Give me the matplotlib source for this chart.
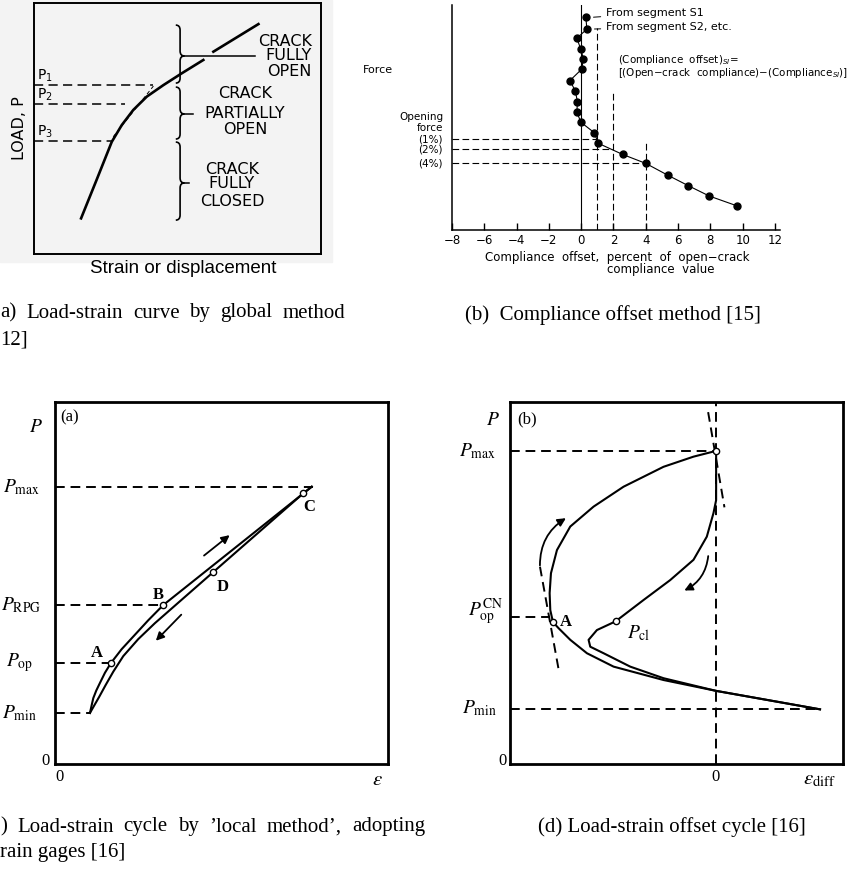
import matplotlib
matplotlib.use('Agg')
import matplotlib.pyplot as plt
from matplotlib.path import Path
from matplotlib.patches import PathPatch, Rectangle

W, H = 858, 869
plt.rcParams['mathtext.fontset'] = 'stix'
plt.rcParams['font.family'] = 'DejaVu Sans'
SERIF = 'Liberation Serif'
DASH = (0, (5, 3))

# (a) global method
glob_strain = [1.64, 2.18, 2.71, 3.06, 3.46, 3.93, 4.51, 5.15, 5.90]
glob_load = [1.42, 2.95, 4.47, 5.14, 5.74, 6.27, 6.73, 7.20, 7.73]
glob_strain_hi = [6.25, 7.82]
glob_load_hi = [8.06, 9.16]
tangent_strain = [2.76, 4.16]
tangent_load = [4.67, 6.69]
p_names = ['P$_1$', 'P$_2$', 'P$_3$']
p_loads = [6.73, 5.98, 4.50]
p_reach = [4.15, 3.17, 2.72]
brace_lo = [6.81, 4.58, 1.35]
brace_hi = [9.12, 6.65, 4.46]
brace_tip = [7.89, 5.58, 2.83]
brace_lead = [7.70, 5.55, 5.40]

# (b) compliance offset method
offset = [0.29, 0.35, -0.27, -0.02, 0.14, 0.02, -0.70, -0.37, -0.23, -0.27,
          -0.02, 0.80, 1.07, 2.56, 4.00, 5.35, 6.63, 7.93, 9.62]
force = [94.5, 89.3, 85.2, 80.3, 75.9, 71.4, 66.4, 61.9, 57.0, 52.4,
         47.9, 43.3, 38.5, 33.6, 29.6, 24.4, 19.7, 15.1, 10.8]
crit_pct = [1, 2, 4]
crit_force = [40.4, 36.0, 29.8]
crit_top = [89.8, 62.2, 40.0]
crit_names = ['(1%)', '(2%)', '(4%)']

# (c) local method, strain gage
up_eps = [1.05, 1.10, 1.15, 1.24, 1.35, 1.50, 1.68, 2.00, 2.35, 2.80, 3.25, 7.71]
up_P = [1.41, 1.62, 1.82, 2.03, 2.24, 2.52, 2.79, 3.17, 3.52, 3.97, 4.39, 7.66]
down_eps = [7.71, 7.46, 4.75, 3.00, 2.50, 2.05, 1.75, 1.52, 1.33, 1.18, 1.05]
down_P = [7.66, 7.48, 5.30, 3.89, 3.45, 2.98, 2.55, 2.18, 1.86, 1.62, 1.41]
c_levels = [7.65, 4.39, 2.79, 1.41]
c_reach = [7.75, 3.25, 1.68, 1.05]
c_names = [r'$P_{\rm max}$', r'$P_{\rm RPG}$', r'$P_{\rm op}$', r'$P_{\rm min}$']
c_mark_eps = [1.68, 3.25, 4.75, 7.46]
c_mark_P = [2.79, 4.39, 5.30, 7.48]
c_mark_names = ['A', 'B', 'D', 'C']
c_name_xy = [(1.26, 3.07), (3.09, 4.67), (5.05, 4.89), (7.63, 7.10)]

# (d) offset strain cycle
out_eps = [3.12, 0.0, -1.58, -3.08, -3.88, -4.38, -4.73, -4.90, -4.98, -5.00,
           -4.96, -4.78, -4.38, -3.68, -2.78, -1.58, -0.68, 0.0]
out_P = [1.51, 2.02, 2.32, 2.69, 3.06, 3.43, 3.75, 3.92, 4.25, 4.72,
         5.27, 5.91, 6.56, 7.11, 7.66, 8.21, 8.49, 8.65]
in_eps = [0.0, 0.0, 0.0, -0.08, -0.28, -0.68, -1.38, -2.18, -3.02, -3.58,
          -3.83, -3.78, -3.38, -2.58, -1.58, 0.0, 3.12]
in_P = [8.65, 8.03, 7.29, 6.93, 6.28, 5.64, 5.08, 4.53, 3.94, 3.70,
        3.43, 3.24, 3.06, 2.69, 2.37, 2.02, 1.51]
d_levels = [8.65, 4.07, 1.51]
d_reach = [0.0, -4.98, 3.12]
d_names = [r'$P_{\rm max}$', r'$P_{\rm op}^{\rm CN}$', r'$P_{\rm min}$']
d_mark_eps = [0.0, -4.90, -3.02]
d_mark_P = [8.65, 3.92, 3.94]

fig = plt.figure(figsize=(W / 100, H / 100), dpi=100)


def box(x0, y0, x1, y1):
    return [x0 / W, 1 - y1 / H, (x1 - x0) / W, (y1 - y0) / H]


def label(x, y, s, **kw):
    kw.setdefault('va', 'center')
    return fig.text(x / W, 1 - y / H, s, **kw)


def justified(words, x0, x1, y, **kw):
    r = fig.canvas.get_renderer()
    ts = [label(0, y, w, ha='left', **kw) for w in words]
    widths = [t.get_window_extent(r).width for t in ts]
    gap = (x1 - x0 - sum(widths)) / (len(words) - 1)
    x = x0
    for t, w in zip(ts, widths):
        t.set_x(x / W)
        x += w + gap


def brace(ax, x, lo, hi, tip, w=0.15, h=0.2):
    verts = [(x - w, hi), (x, hi), (x, hi - h), (x, tip + h), (x, tip), (x + w, tip),
             (x + w, tip), (x, tip), (x, tip - h), (x, lo + h), (x, lo), (x - w, lo)]
    codes = [Path.MOVETO, Path.CURVE3, Path.CURVE3, Path.LINETO, Path.CURVE3, Path.CURVE3,
             Path.MOVETO, Path.CURVE3, Path.CURVE3, Path.LINETO, Path.CURVE3, Path.CURVE3]
    ax.add_patch(PathPatch(Path(verts, codes), fill=False, lw=1.2, color='k'))


def bare(ax, lw):
    ax.set_facecolor('none')
    ax.set_xticks([])
    ax.set_yticks([])
    for s in ax.spines.values():
        s.set_linewidth(lw)


fig.add_artist(Rectangle((0, 1 - 262 / H), 332 / W, 262 / H, transform=fig.transFigure,
                         color='#f3f3f3', zorder=0))

# ---------- (a) ----------
ax1 = fig.add_axes(box(34, 3, 321, 254))
bare(ax1, 1.4)
ax1.set_xlim(0, 10)
ax1.set_ylim(0, 10)
ax1.plot(glob_strain, glob_load, color='k', lw=1.9)
ax1.plot(glob_strain_hi, glob_load_hi, color='k', lw=1.9)
ax1.plot(tangent_strain, tangent_load, color='k', lw=0.7, ls=(0, (4, 3)))
for name, p, reach in zip(p_names, p_loads, p_reach):
    ax1.plot([0, reach], [p, p], color='k', lw=1.1, ls=(0, (6, 3.5)))
    ax1.text(0.1, p + 0.05, name, fontsize=10, va='bottom', math_fontfamily='dejavusans')
for lo, hi, tip, lead in zip(brace_lo, brace_hi, brace_tip, brace_lead):
    brace(ax1, 5.09, lo, hi, tip)
    ax1.plot([5.24, lead], [tip, tip], color='k', lw=1.1)

for s, y in zip(['CRACK', 'FULLY', 'OPEN'], [41, 55, 71]):
    label(312, y, s, ha='right', fontsize=11.5)
for s, y in zip(['CRACK', 'PARTIALLY', 'OPEN'], [94, 114, 130]):
    label(245, y, s, ha='center', fontsize=11.5)
for s, y in zip(['CRACK', 'FULLY', 'CLOSED'], [169, 184, 201]):
    label(232, y, s, ha='center', fontsize=11.5)
label(19, 128, 'LOAD, P', rotation=90, ha='center', fontsize=11.5)
label(183, 268, 'Strain or displacement', ha='center', family='Liberation Sans', fontsize=13.5)
justified(['a)', 'Load-strain', 'curve', 'by', 'global', 'method'], 0, 345, 313,
          family=SERIF, fontsize=15)
label(0, 340, '12]', ha='left', family=SERIF, fontsize=15)

# ---------- (b) ----------
ax2 = fig.add_axes(box(452, 5, 780, 230))
ax2.set_facecolor('none')
ax2.set_xlim(-8, 12.31)
ax2.set_ylim(0, 100)
ax2.spines[['top', 'right']].set_visible(False)
ax2.spines[['left', 'bottom']].set_linewidth(1.1)
ax2.set_xticks(range(-8, 13, 2))
ax2.set_yticks([])
ax2.tick_params(axis='x', direction='in', length=5, width=1, labelsize=8.5, pad=3)
ax2.axvline(0, color='k', lw=0.8)
for pct, f, top in zip(crit_pct, crit_force, crit_top):
    ax2.plot([-8, pct], [f, f], color='k', lw=0.8, ls=(0, (6, 3)))
    ax2.plot([pct, pct], [0, top], color='k', lw=0.8, ls=(0, (6, 3)))
ax2.plot(offset, force, color='k', lw=0.8, marker='o', ms=5)
ax2.annotate('From segment S1', xy=(offset[0] + 0.3, force[0]), xytext=(1.55, 96.4),
             fontsize=8, va='center', arrowprops=dict(arrowstyle='-', lw=0.7))
ax2.annotate('From segment S2, etc.', xy=(offset[1] + 0.3, force[1]), xytext=(1.55, 90.2),
             fontsize=8, va='center', arrowprops=dict(arrowstyle='-', lw=0.7))

label(485, 258, 'Compliance  offset,  percent  of  open\u2212crack', ha='left', fontsize=8.5)
label(607, 270, 'compliance  value', ha='left', fontsize=8.5)
label(393, 70, 'Force', ha='right', fontsize=8)
label(443, 117, 'Opening', ha='right', fontsize=7.5)
label(443, 128, 'force', ha='right', fontsize=7.5)
for s, y in zip(crit_names, [140, 150, 164]):
    label(443, y, s, ha='right', fontsize=7.5)
label(618, 60, '(Compliance  offset)$_{SI}$=', ha='left', fontsize=7.4,
      math_fontfamily='dejavusans')
label(618, 73, '[(Open\u2212crack  compliance)\u2212(Compliance$_{SI}$)]', ha='left', fontsize=7.4,
      math_fontfamily='dejavusans')
label(465, 315, '(b)  Compliance offset method [15]', ha='left', family=SERIF, fontsize=15)

# ---------- (c) ----------
ax3 = fig.add_axes(box(55, 402, 388, 764))
bare(ax3, 2.0)
ax3.set_xlim(0, 10)
ax3.set_ylim(0, 10)
for p, reach in zip(c_levels, c_reach):
    ax3.plot([0, reach], [p, p], color='k', lw=1.4, ls=DASH)
ax3.plot(up_eps, up_P, color='k', lw=1.5)
ax3.plot(down_eps, down_P, color='k', lw=1.5)
ax3.plot(c_mark_eps, c_mark_P, 'o', ms=4.5, mfc='white', mec='k', mew=1)
for s, (x, y) in zip(c_mark_names, c_name_xy):
    ax3.text(x, y, s, family=SERIF, fontweight='bold', fontsize=12, ha='center', va='center')
ax3.annotate('', xy=(5.31, 6.37), xytext=(4.41, 5.71),
             arrowprops=dict(arrowstyle='-|>', lw=1.3, color='k', mutation_scale=12))
ax3.annotate('', xy=(2.97, 3.35), xytext=(3.85, 4.18),
             arrowprops=dict(arrowstyle='-|>', lw=1.3, color='k', mutation_scale=12))

label(36, 426, '$P$', ha='center', fontsize=14)
label(60, 417, '(a)', ha='left', family=SERIF, fontsize=12)
for s, y, xr in zip(c_names, [487, 605, 663, 713], [40, 41, 33, 37]):
    label(xr, y, s, ha='right', fontsize=14)
label(50, 761, '0', ha='right', family=SERIF, fontsize=12)
label(59, 777, '0', ha='center', family=SERIF, fontsize=12)
label(377, 779, r'$\varepsilon$', ha='center', fontsize=15)
justified([')', 'Load-strain', 'cycle', 'by', '\u2019local', 'method\u2019,', 'adopting'],
          0, 425, 827, family=SERIF, fontsize=15)
label(0, 853, 'rain gages [16]', ha='left', family=SERIF, fontsize=15)

# ---------- (d) ----------
ax4 = fig.add_axes(box(510, 402, 843, 764))
bare(ax4, 2.0)
ax4.set_xlim(-6.19, 3.81)
ax4.set_ylim(0, 10)
ax4.axvline(0, color='k', lw=1.4, ls=DASH)
for p, reach in zip(d_levels, d_reach):
    ax4.plot([-6.19, reach], [p, p], color='k', lw=1.4, ls=DASH)
ax4.plot([-0.24, 0.25], [9.72, 7.09], color='k', lw=1.4, ls=DASH)
ax4.plot([-5.29, -4.71], [5.45, 2.51], color='k', lw=1.4, ls=DASH)
ax4.plot(out_eps, out_P, color='k', lw=1.5)
ax4.plot(in_eps, in_P, color='k', lw=1.5)
ax4.plot(d_mark_eps, d_mark_P, 'o', ms=4.5, mfc='white', mec='k', mew=1)
ax4.text(-4.50, 3.92, 'A', family=SERIF, fontweight='bold', fontsize=12, ha='center', va='center')
ax4.text(-2.31, 3.62, r'$P_{\rm cl}$', fontsize=14, ha='center', va='center')
ax4.annotate('', xy=(-4.44, 6.83), xytext=(-5.29, 5.41),
             arrowprops=dict(arrowstyle='-|>', lw=1.3, color='k', mutation_scale=12,
                             connectionstyle='arc3,rad=-0.3'))
ax4.annotate('', xy=(-1.03, 4.76), xytext=(-0.23, 5.82),
             arrowprops=dict(arrowstyle='-|>', lw=1.3, color='k', mutation_scale=12,
                             connectionstyle='arc3,rad=-0.3'))

label(493, 419, '$P$', ha='center', fontsize=14)
label(517, 419, '(b)', ha='left', family=SERIF, fontsize=12)
for s, y, xr in zip(d_names, [451, 612, 708], [496, 503, 497]):
    label(xr, y, s, ha='right', fontsize=14)
label(507, 761, '0', ha='right', family=SERIF, fontsize=12)
label(716, 777, '0', ha='center', family=SERIF, fontsize=12)
label(820, 779, r'$\varepsilon_{\rm diff}$', ha='center', fontsize=15)
label(538, 827, '(d) Load-strain offset cycle [16]', ha='left', family=SERIF, fontsize=15)

fig.savefig('out.png', dpi=100)
